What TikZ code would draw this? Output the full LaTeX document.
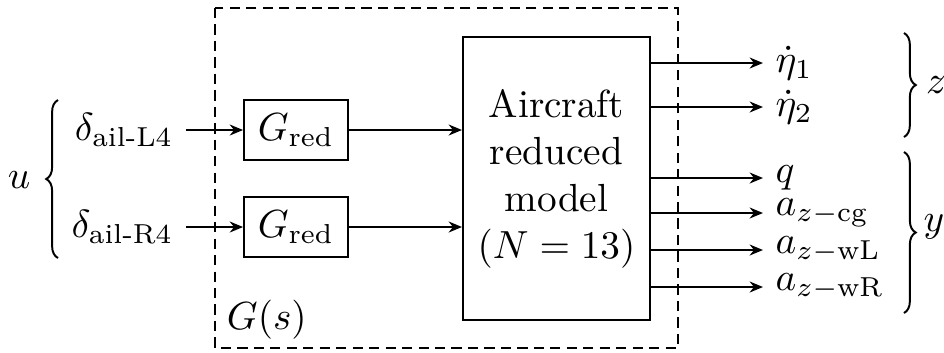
\documentclass[tikz,border=0pt]{standalone}
\usepackage{amsmath}
\usetikzlibrary{arrows.meta,decorations.pathreplacing}
\begin{document}
\begin{tikzpicture}[x=0.255pt,y=-0.255pt,
  line width=0.5pt,
  arr/.style={-{Stealth[length=3.4pt,width=2.8pt]}},
  blk/.style={draw,inner sep=0pt,minimum width=26.5pt,minimum height=15.3pt},
  brc/.style={decorate,decoration={brace,amplitude=3pt}},
  dsh/.style={dash pattern=on 2.6pt off 1.6pt},
  outl/.style={anchor=west,inner xsep=3pt,inner ysep=0pt}]
\useasboundingbox (0,0) rectangle (944,352);
% dashed G(s) frame
\draw[dsh] (215,8) rectangle (678,348);
\node[anchor=west,inner sep=0pt] (gs) at (226,320) {$G(s)$};
% model
\node[draw,inner sep=0pt,minimum width=47.7pt,minimum height=72.2pt,align=center] (model) at (556.5,178.5)
  {Aircraft\\reduced\\model\\$(N=13)$};
% reduction blocks
\node[blk] (g1) at (296,130) {$G_{\text{red}}$};
\node[blk] (g2) at (296,227) {$G_{\text{red}}$};
% inputs
\node[anchor=east,inner xsep=3pt,inner ysep=0pt] (d1) at (186,130) {$\delta_{\text{ail-L4}}$};
\node[anchor=east,inner xsep=3pt,inner ysep=0pt] (d2) at (186,227) {$\delta_{\text{ail-R4}}$};
\draw[arr] (d1.east) -- (g1.west);
\draw[arr] (d2.east) -- (g2.west);
\draw[arr] (g1.east) -- (g1.east -| model.west);
\draw[arr] (g2.east) -- (g2.east -| model.west);
% u brace
\coordinate (ub) at (58,258);
\coordinate (ut) at (58,100);
\draw[brc] (ub) -- (ut);
\node (u) at (19,180) {$u$};
% outputs
\coordinate (e1) at (763,63);
\coordinate (e2) at (763,107);
\coordinate (e3) at (763,178);
\coordinate (e4) at (763,213);
\coordinate (e5) at (763,250);
\coordinate (e6) at (763,287);
\node[outl] (o1) at (e1) {$\dot\eta_1$};
\node[outl] (o2) at (e2) {$\dot\eta_2$};
\node[outl] (o3) at (e3) {$q$};
\node[outl] (o4) at (e4) {$a_{z-\mathrm{cg}}$};
\node[outl] (o5) at (e5) {$a_{z-\mathrm{wL}}$};
\node[outl] (o6) at (e6) {$a_{z-\mathrm{wR}}$};
\foreach \i in {1,...,6} {\draw[arr] (model.east |- e\i) -- (e\i);}
% right braces
\coordinate (zt) at (904,33);
\coordinate (zb) at (904,137);
\draw[brc] (zt) -- (zb);
\node (z) at (936,85) {$z$};
\coordinate (yt) at (904,152);
\coordinate (yb) at (904,313);
\draw[brc] (yt) -- (yb);
\node (y) at (934,227) {$y$};
\end{tikzpicture}
\end{document}
